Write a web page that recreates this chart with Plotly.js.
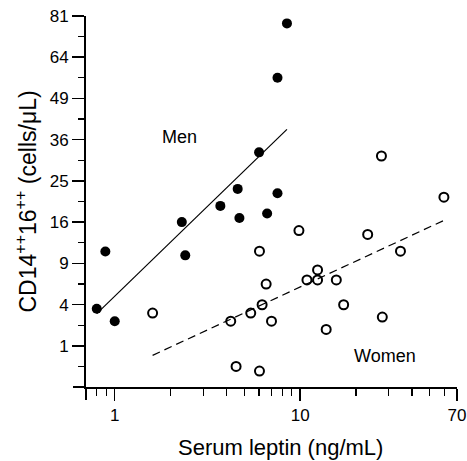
<!DOCTYPE html>
<html>
<head>
<meta charset="utf-8">
<script src="https://cdn.plot.ly/plotly-3.0.1.min.js"></script>
<style>html,body{margin:0;padding:0;background:#fff;}#chart{width:467px;height:461px;}</style>
</head>
<body>
<div id="chart"></div>
<script>
// Men (filled circles)
var menLeptin = [0.80, 0.89, 1.0, 2.30, 2.40, 3.71, 4.60, 4.70, 6.00, 6.63, 7.54, 7.54, 8.48];
var menCD16 = [3.6, 10.8, 2.55, 16.0, 10.2, 19.3, 23.1, 16.8, 32.4, 17.7, 22.1, 56.3, 77.8];
// Women (open circles)
var womenLeptin = [1.6, 4.22, 4.51, 5.41, 6.03, 6.03, 6.23, 6.55, 7.0, 9.84, 10.87, 12.4, 12.4, 13.8, 15.65, 17.14, 23.1, 27.4, 27.7, 34.7, 59.5];
var womenCD16 = [3.22, 2.55, 0.25, 3.22, 10.85, 0.15, 3.98, 6.24, 2.55, 14.4, 6.74, 8.06, 6.74, 1.95, 6.74, 3.98, 13.7, 31.4, 2.88, 10.85, 21.2];

var yTickVals = [1, 4, 9, 16, 25, 36, 49, 64, 81];
var yTickText = ['1', '4', '9', '16', '25', '36', '49', '64', '81'];
var xTickVals = [1, 10, 70];
var xTickText = ['1', '10', '70'];
var xMinorVals = [0.8, 0.9, 2, 3, 4, 5, 6, 7, 8, 9, 20, 30, 40, 50, 60];

// square-root y scale
function sq(v) { return Math.sqrt(v); }

function fit(xs, ys) {
  var lx = xs.map(function (v) { return Math.log10(v); });
  var sy = ys.map(sq);
  var n = lx.length, mx = 0, my = 0;
  for (var i = 0; i < n; i++) { mx += lx[i]; my += sy[i]; }
  mx /= n; my /= n;
  var sxy = 0, sxx = 0;
  for (var j = 0; j < n; j++) { sxy += (lx[j] - mx) * (sy[j] - my); sxx += (lx[j] - mx) * (lx[j] - mx); }
  var b = sxy / sxx, a = my - b * mx;
  var x0 = Math.min.apply(null, xs), x1 = Math.max.apply(null, xs);
  return { x: [x0, x1], y: [a + b * Math.log10(x0), a + b * Math.log10(x1)] };
}

var menFit = fit(menLeptin, menCD16);
var womenFit = fit(womenLeptin, womenCD16);

var traces = [
  { x: menFit.x, y: menFit.y, mode: 'lines', line: { color: '#000', width: 1.2 }, hoverinfo: 'skip' },
  { x: womenFit.x, y: womenFit.y, mode: 'lines', line: { color: '#000', width: 1.2, dash: '8px,5px' }, hoverinfo: 'skip' },
  { x: menLeptin, y: menCD16.map(sq), mode: 'markers', marker: { symbol: 'circle', size: 10, color: '#000' } },
  { x: womenLeptin, y: womenCD16.map(sq), mode: 'markers', marker: { symbol: 'circle-open', size: 9, color: '#000', line: { width: 2, color: '#000' } } },
  // carrier trace for the end-tick axes (draws nothing)
  { x: [], y: [], xaxis: 'x2', yaxis: 'y2', mode: 'markers', hoverinfo: 'skip' }
];

var font = 'Liberation Sans, Arial, sans-serif';
var xRange = [Math.log10(0.7), Math.log10(70)];
var yRange = [0, 9];
var layout = {
  width: 467, height: 461,
  margin: { l: 86, r: 10, t: 16, b: 74 },
  paper_bgcolor: '#fff', plot_bgcolor: 'rgba(0,0,0,0)',
  showlegend: false,
  font: { family: font, size: 17, color: '#000' },
  xaxis: {
    type: 'log', range: xRange,
    tickmode: 'array', tickvals: xTickVals, ticktext: xTickText,
    ticks: 'outside', ticklen: 12, tickwidth: 1.5, tickcolor: '#000',
    minor: { tickmode: 'array', tickvals: xMinorVals, ticks: 'outside', ticklen: 7, tickwidth: 1.2, tickcolor: '#000', showgrid: false },
    showline: true, linewidth: 2, linecolor: '#000',
    showgrid: false, zeroline: false,
    tickfont: { size: 17 }
  },
  yaxis: {
    range: yRange,
    tickmode: 'array', tickvals: yTickVals.map(sq), ticktext: yTickText,
    ticks: 'outside', ticklen: 12, tickwidth: 1.5, tickcolor: '#000',
    minor: { tickmode: 'array', tickvals: [0.5, 1.5, 2.5, 3.5, 4.5, 5.5, 6.5, 7.5, 8.5], ticks: 'outside', ticklen: 6, tickwidth: 1.2, tickcolor: '#000', showgrid: false },
    showline: true, linewidth: 2, linecolor: '#000',
    showgrid: false, zeroline: false,
    tickfont: { size: 17 },
    title: { text: 'CD14<sup>++</sup>16<sup>++</sup> (cells/μL)', font: { size: 23 }, standoff: 7 }
  },
  // end ticks at the axis corner (x = 0.7, y = 0), no labels
  xaxis2: {
    type: 'log', range: xRange, overlaying: 'x', anchor: 'y2', side: 'bottom',
    tickmode: 'array', tickvals: [0.7], showticklabels: false,
    ticks: 'outside', ticklen: 12, tickwidth: 1.5, tickcolor: '#000',
    showline: false, showgrid: false, zeroline: false
  },
  yaxis2: {
    range: yRange, overlaying: 'y', anchor: 'x2', side: 'left',
    tickmode: 'array', tickvals: [0], showticklabels: false,
    ticks: 'outside', ticklen: 12, tickwidth: 1.5, tickcolor: '#000',
    showline: false, showgrid: false, zeroline: false
  },
  annotations: [
    { xref: 'x', yref: 'y', x: Math.log10(2.23), y: sq(36.9), text: 'Men', showarrow: false, font: { size: 18 } },
    { xref: 'x', yref: 'y', x: Math.log10(28.5), y: sq(0.565), text: 'Women', showarrow: false, font: { size: 18 } },
    { xref: 'paper', yref: 'paper', x: 0.523, y: -0.125, xanchor: 'center', yanchor: 'top', text: 'Serum leptin (ng/mL)', showarrow: false, font: { size: 22 } }
  ]
};

Plotly.newPlot('chart', traces, layout, { displayModeBar: false, staticPlot: true });
</script>
</body>
</html>
